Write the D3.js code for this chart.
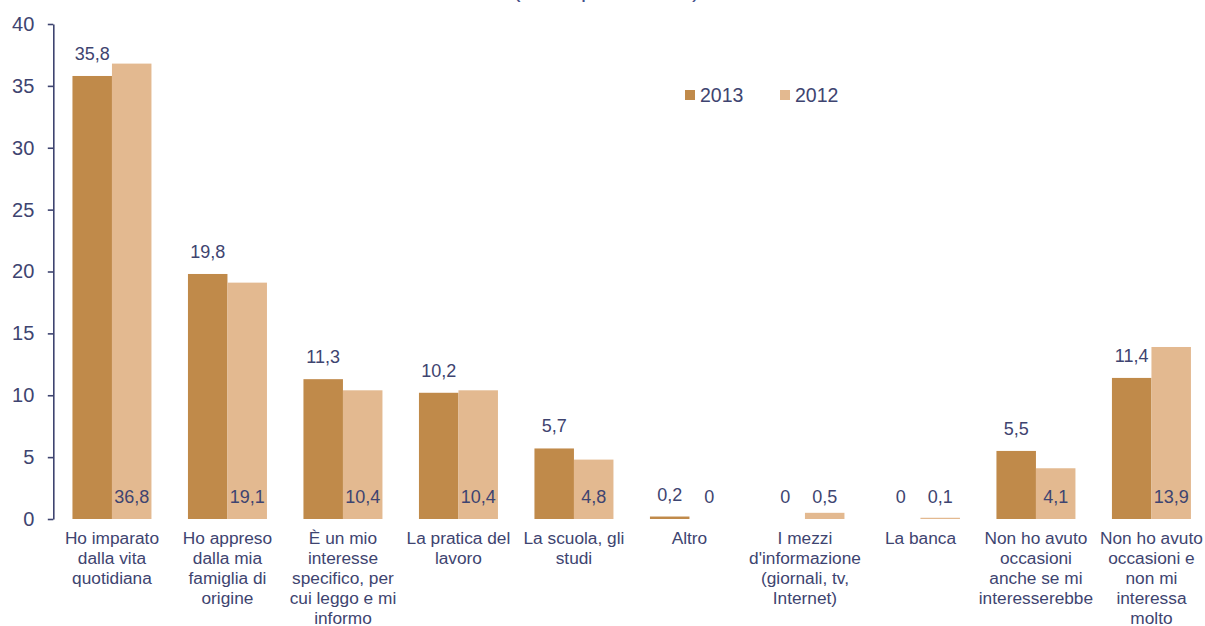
<!DOCTYPE html>
<html>
<head>
<meta charset="utf-8">
<script src="https://cdn.jsdelivr.net/npm/d3@7"></script>
<style>
  html, body { margin: 0; padding: 0; background: #ffffff; }
  svg { display: block; font-family: "Liberation Sans", Arial, sans-serif; }
</style>
</head>
<body>
<svg id="chart" width="1205" height="626"></svg>
<script>
// Category labels (line breaks mark the wrapped lines under each group)
const categories = [
  "Ho imparato\ndalla vita\nquotidiana",
  "Ho appreso\ndalla mia\nfamiglia di\norigine",
  "È un mio\ninteresse\nspecifico, per\ncui leggo e mi\ninformo",
  "La pratica del\nlavoro",
  "La scuola, gli\nstudi",
  "Altro",
  "I mezzi\nd'informazione\n(giornali, tv,\nInternet)",
  "La banca",
  "Non ho avuto\noccasioni\nanche se mi\ninteresserebbe",
  "Non ho avuto\noccasioni e\nnon mi\ninteressa\nmolto"
];

const series = ["2013", "2012"];
const values2013 = [35.8, 19.8, 11.3, 10.2, 5.7, 0.2, 0, 0, 5.5, 11.4];
const values2012 = [36.8, 19.1, 10.4, 10.4, 4.8, 0, 0.5, 0.1, 4.1, 13.9];
const yTicks = [0, 5, 10, 15, 20, 25, 30, 35, 40];
const subtitle = "(valori percentuali)";

const colors = { "2013": "#c08a4a", "2012": "#e3b990" };
const textColor = "#3e4470";

const svg = d3.select("#chart");

const x = d3.scaleBand()
  .domain(categories)
  .range([53.4, 1210])
  .paddingInner(0.316)
  .paddingOuter(0.165);

const xSeries = d3.scaleBand()
  .domain(series)
  .range([0, x.bandwidth()]);

const y = d3.scaleLinear()
  .domain([0, 40])
  .range([519, 24]);

const fmt = v => String(v).replace(".", ",");

// Subtitle sitting mostly above the visible area
svg.append("text")
  .attr("x", 513)
  .attr("y", -3)
  .attr("font-size", 22.7)
  .attr("fill", "#44508a")
  .text(subtitle);

// Y axis
const yAxis = svg.append("g")
  .attr("transform", "translate(53.3,0)")
  .call(d3.axisLeft(y).tickValues(yTicks).tickSize(5.5).tickSizeOuter(0).tickPadding(13.5));
yAxis.select(".domain").attr("stroke", textColor).attr("stroke-width", 1.6);
yAxis.selectAll(".tick line").attr("stroke", textColor).attr("stroke-width", 1.6);
yAxis.selectAll(".tick text")
  .attr("font-size", 20)
  .attr("font-family", "Liberation Sans, Arial, sans-serif")
  .attr("fill", textColor);

// Bars
const rows = categories.map((c, i) => ({ cat: c, "2013": values2013[i], "2012": values2012[i] }));

const groups = svg.append("g").selectAll("g")
  .data(rows)
  .join("g")
  .attr("transform", d => `translate(${x(d.cat)},0)`);

groups.selectAll("rect")
  .data(d => series.map(s => ({ s, v: d[s] })))
  .join("rect")
  .attr("x", d => xSeries(d.s))
  .attr("y", d => y(d.v))
  .attr("width", xSeries.bandwidth())
  .attr("height", d => y(0) - y(d.v))
  .attr("fill", d => colors[d.s]);

// Value labels: 2013 above its bar, 2012 near the base
groups.selectAll("text.val")
  .data(d => series.map(s => ({ s, v: d[s] })))
  .join("text")
  .attr("class", "val")
  .attr("x", d => xSeries(d.s) + xSeries.bandwidth() / 2)
  .attr("y", d => d.s === "2013" ? y(d.v) - 16 : y(0) - 16)
  .attr("text-anchor", "middle")
  .attr("font-size", 18)
  .attr("fill", textColor)
  .text(d => fmt(d.v));

// Category labels
const catLabels = svg.append("g").selectAll("text")
  .data(categories)
  .join("text")
  .attr("x", d => x(d) + x.bandwidth() / 2)
  .attr("y", 544)
  .attr("text-anchor", "middle")
  .attr("font-size", 17.3)
  .attr("fill", textColor);

catLabels.selectAll("tspan")
  .data(d => d.split("\n"))
  .join("tspan")
  .attr("x", function () { return d3.select(this.parentNode).attr("x"); })
  .attr("dy", (d, i) => i === 0 ? 0 : 20)
  .text(d => d);

// Legend
const legend = svg.append("g");
const legendX = [685, 780];
series.forEach((s, i) => {
  legend.append("rect")
    .attr("x", legendX[i])
    .attr("y", 90)
    .attr("width", 10)
    .attr("height", 10)
    .attr("fill", colors[s]);
  legend.append("text")
    .attr("x", legendX[i] + 15)
    .attr("y", 102)
    .attr("font-size", 19.5)
    .attr("fill", textColor)
    .text(s);
});
</script>
</body>
</html>
